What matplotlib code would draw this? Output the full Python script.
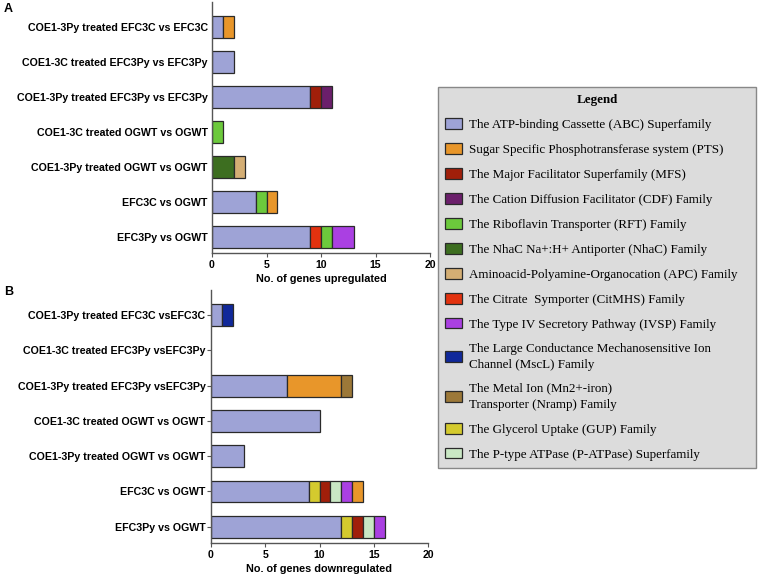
import matplotlib
matplotlib.use("Agg")
import matplotlib.pyplot as plt
from matplotlib.patches import Patch

# ---------------- data ----------------
families = [
    "The ATP-binding Cassette (ABC) Superfamily",
    "Sugar Specific Phosphotransferase system (PTS)",
    "The Major Facilitator Superfamily (MFS)",
    "The Cation Diffusion Facilitator (CDF) Family",
    "The Riboflavin Transporter (RFT) Family",
    "The NhaC Na+:H+ Antiporter (NhaC) Family",
    "Aminoacid-Polyamine-Organocation (APC) Family",
    "The Citrate  Symporter (CitMHS) Family",
    "The Type IV Secretory Pathway (IVSP) Family",
    "The Large Conductance Mechanosensitive Ion\nChannel (MscL) Family",
    "The Metal Ion (Mn2+-iron)\nTransporter (Nramp) Family",
    "The Glycerol Uptake (GUP) Family",
    "The P-type ATPase (P-ATPase) Superfamily",
]
codes = ["ABC", "PTS", "MFS", "CDF", "RFT", "NhaC", "APC", "CitMHS",
         "IVSP", "MscL", "Nramp", "GUP", "PATPase"]
colors = ["#9ea3d6", "#e8962a", "#a01f0a", "#6b1f6b", "#6cc93c", "#3d6e20",
          "#d4ae74", "#e2320f", "#aa40e2", "#10289a", "#9c7838", "#d4ca2e",
          "#c9e7c4"]

up_labels = ["COE1-3Py treated EFC3C vs EFC3C",
             "COE1-3C treated EFC3Py vs EFC3Py",
             "COE1-3Py treated EFC3Py vs EFC3Py",
             "COE1-3C treated OGWT vs OGWT",
             "COE1-3Py treated OGWT vs OGWT",
             "EFC3C vs OGWT",
             "EFC3Py vs OGWT"]
up_order = ["ABC", "NhaC", "APC", "CitMHS", "MFS", "CDF", "RFT", "PTS", "IVSP"]
up_ABC = [1, 2, 9, 0, 0, 4, 9]
up_NhaC = [0, 0, 0, 0, 2, 0, 0]
up_APC = [0, 0, 0, 0, 1, 0, 0]
up_CitMHS = [0, 0, 0, 0, 0, 0, 1]
up_MFS = [0, 0, 1, 0, 0, 0, 0]
up_CDF = [0, 0, 1, 0, 0, 0, 0]
up_RFT = [0, 0, 0, 1, 0, 1, 1]
up_PTS = [1, 0, 0, 0, 0, 1, 0]
up_IVSP = [0, 0, 0, 0, 0, 0, 2]

down_labels = ["COE1-3Py treated EFC3C vsEFC3C",
               "COE1-3C treated EFC3Py vsEFC3Py",
               "COE1-3Py treated EFC3Py vsEFC3Py",
               "COE1-3C treated OGWT vs OGWT",
               "COE1-3Py treated OGWT vs OGWT",
               "EFC3C vs OGWT",
               "EFC3Py vs OGWT"]
down_order = ["ABC", "MscL", "GUP", "MFS", "PATPase", "IVSP", "PTS", "Nramp"]
down_ABC = [1, 0, 7, 10, 3, 9, 12]
down_MscL = [1, 0, 0, 0, 0, 0, 0]
down_GUP = [0, 0, 0, 0, 0, 1, 1]
down_MFS = [0, 0, 0, 0, 0, 1, 1]
down_PATPase = [0, 0, 0, 0, 0, 1, 1]
down_IVSP = [0, 0, 0, 0, 0, 1, 1]
down_PTS = [0, 0, 5, 0, 0, 1, 0]
down_Nramp = [0, 0, 1, 0, 0, 0, 0]

up_data = {"ABC": up_ABC, "NhaC": up_NhaC, "APC": up_APC, "CitMHS": up_CitMHS,
           "MFS": up_MFS, "CDF": up_CDF, "RFT": up_RFT, "PTS": up_PTS,
           "IVSP": up_IVSP}
down_data = {"ABC": down_ABC, "MscL": down_MscL, "GUP": down_GUP,
             "MFS": down_MFS, "PATPase": down_PATPase, "IVSP": down_IVSP,
             "PTS": down_PTS, "Nramp": down_Nramp}
color_of = dict(zip(codes, colors))

# ---------------- figure ----------------
W, H = 758, 575
fig = plt.figure(figsize=(W / 100, H / 100), dpi=100)
sans = ["Liberation Sans", "DejaVu Sans"]
serif = ["Liberation Serif", "DejaVu Serif"]
EDGE = "#2a2a2a"


def ax_rect(x0, x1, y0, y1):
    return [x0 / W, 1 - y1 / H, (x1 - x0) / W, (y1 - y0) / H]


def draw_panel(ax, labels, order, data, xlabel, show_ticks):
    n = len(labels)
    ypos = list(range(n))
    left = [0] * n
    for code in order:
        vals = data[code]
        edges = [EDGE if v > 0 else "none" for v in vals]
        ax.barh(ypos, vals, left=left, height=0.62, color=color_of[code],
                edgecolor=edges, linewidth=0.9)
        left = [a + b for a, b in zip(left, vals)]
    ax.set_ylim(n - 1 + 0.46, -0.71)
    ax.set_xlim(0, 20)
    ax.set_xticks([0, 5, 10, 15, 20])
    ax.set_yticks(ypos)
    ax.set_yticklabels(labels, fontsize=7.7, fontweight="bold", family=sans)
    for t in ax.get_xticklabels():
        t.set_fontsize(7.6)
        t.set_fontweight("bold")
        t.set_family(sans)
    ax.set_xlabel(xlabel, fontsize=7.8, fontweight="bold", family=sans,
                  labelpad=3)
    for s in ["top", "right"]:
        ax.spines[s].set_visible(False)
    for s in ["left", "bottom"]:
        ax.spines[s].set_color("#555555")
        ax.spines[s].set_linewidth(1.0)
    ax.tick_params(axis="x", length=3, width=0.8, color="#555555", pad=2)
    ax.tick_params(axis="y", length=3 if show_ticks else 0, width=0.8,
                   color="#555555", pad=1 if show_ticks else 3)


axA = fig.add_axes(ax_rect(212, 430, 2, 253))
draw_panel(axA, up_labels, up_order, up_data, "No. of genes upregulated", False)
axB = fig.add_axes(ax_rect(211, 428, 290, 543))
draw_panel(axB, down_labels, down_order, down_data,
           "No. of genes downregulated", True)

fig.text(4 / W, 1 - 9 / H, "A", fontsize=9, fontweight="bold", family=sans,
         va="center", ha="left")
fig.text(4 / W, 1 - 292 / H, "B", fontsize=9, fontweight="bold", family=sans,
         va="center", ha="left")

handles = [Patch(facecolor=c, edgecolor=EDGE, linewidth=0.9)
           for c in colors]
leg = fig.legend(handles, families, loc="upper left",
                 bbox_to_anchor=(438 / W, 1 - 87 / H - 0.01, 318 / W, 0.01),
                 mode="expand",
                 prop={"family": serif, "size": 9.4},
                 title="Legend",
                 title_fontproperties={"family": serif, "size": 9.4,
                                       "weight": "bold"},
                 frameon=True, fancybox=False, framealpha=1,
                 facecolor="#dcdcdc", edgecolor="#888888",
                 handlelength=1.25, handleheight=0.9, handletextpad=0.55,
                 labelspacing=0.92, borderpad=0.55, borderaxespad=0)
leg.get_frame().set_linewidth(1.0)
for t in leg.get_texts():
    if "\n" in t.get_text():
        t.set_linespacing(1.45)

fig.savefig("out.png", dpi=100)
